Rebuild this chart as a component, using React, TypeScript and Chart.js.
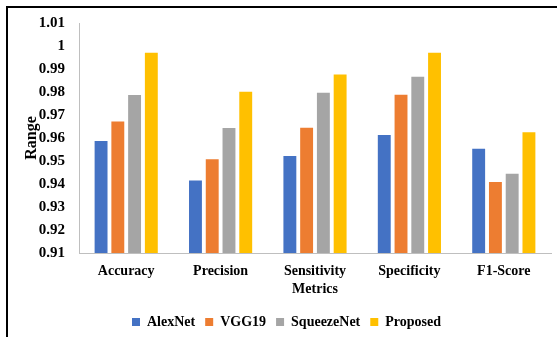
import React, { useEffect, useRef } from "react";
import { Chart, registerables } from "chart.js";

Chart.register(...registerables);

const categories = ["Accuracy", "Precision", "Sensitivity", "Specificity", "F1-Score"];
const seriesNames = ["AlexNet", "VGG19", "SqueezeNet", "Proposed"];
const alexNet = [0.9587, 0.9415, 0.9522, 0.9613, 0.9553];
const vgg19 = [0.9672, 0.9508, 0.9645, 0.9788, 0.9409];
const squeezeNet = [0.9787, 0.9643, 0.9797, 0.9866, 0.9445];
const proposed = [0.9971, 0.9801, 0.9876, 0.9971, 0.9625];
const colors = ["#4472C4", "#ED7D31", "#A5A5A5", "#FFC000"];
const yMin = 0.91;
const yMax = 1.01;
const yStep = 0.01;

export default function App() {
  const ref = useRef<HTMLCanvasElement | null>(null);
  useEffect(() => {
    if (!ref.current) return;
    const font = "'Liberation Serif', 'Times New Roman', serif";
    const values = [alexNet, vgg19, squeezeNet, proposed];
    const chart = new Chart(ref.current, {
      type: "bar",
      data: {
        labels: categories,
        datasets: seriesNames.map((n, i) => ({
          label: n,
          data: values[i],
          backgroundColor: colors[i],
          borderWidth: 0,
          categoryPercentage: 0.71,
          barPercentage: 0.77,
        })),
      },
      options: {
        animation: false,
        responsive: false,
        devicePixelRatio: 1,
        layout: { padding: { top: 21, right: 6, left: 22, bottom: -2 } },
        plugins: {
          tooltip: { enabled: false },
          legend: {
            position: "bottom",
            labels: {
              boxWidth: 8,
              boxHeight: 8,
              padding: 10,
              color: "#000",
              font: { family: font, size: 14, weight: "bold" },
            },
          },
        },
        scales: {
          x: {
            grid: { display: false, drawTicks: false },
            border: { color: "#BFBFBF", width: 1 },
            ticks: {
              color: "#000",
              padding: 10,
              font: { family: font, size: 14, weight: "bold" },
            },
            title: {
              display: true,
              text: "Metrics",
              color: "#000",
              padding: { top: 2, bottom: 7 },
              font: { family: font, size: 14, weight: "bold" },
            },
            afterFit: (s: any) => {
              s.height = 52;
            },
          },
          y: {
            min: yMin,
            max: yMax,
            grid: { display: false, drawTicks: false },
            border: { color: "#BFBFBF", width: 1 },
            ticks: {
              stepSize: yStep,
              color: "#000",
              padding: 14,
              font: { family: font, size: 15, weight: "bold" },
              callback: (v: any) => String(Math.round(Number(v) * 100) / 100),
            },
            title: {
              display: true,
              text: "Range",
              color: "#000",
              padding: { top: 0, bottom: 0 },
              font: { family: font, size: 16, weight: "bold" },
            },
            afterFit: (s: any) => {
              s.width = 57;
            },
          },
        },
      },
    });
    return () => chart.destroy();
  }, []);
  return (
    <div style={{ position: "fixed", left: 0, top: 0, width: 557, height: 337, background: "#fff" }}>
      <div
        style={{
          position: "absolute",
          left: 6,
          top: 6,
          right: 0,
          bottom: 0,
          borderTop: "2px solid #000",
          borderLeft: "2px solid #000",
        }}
      />
      <canvas ref={ref} width={557} height={337} style={{ position: "absolute", left: 0, top: 0 }} />
    </div>
  );
}
